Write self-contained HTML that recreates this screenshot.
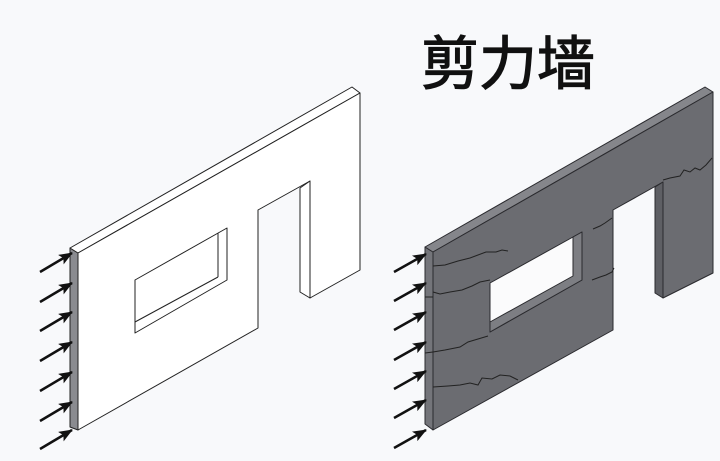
<!DOCTYPE html>
<html><head><meta charset="utf-8"><style>
html,body{margin:0;padding:0;background:#f8f9fb;}
svg{display:block}
</style></head><body>
<svg width="720" height="461" viewBox="0 0 720 461" xmlns="http://www.w3.org/2000/svg">
<rect width="720" height="461" fill="#f8f9fb"/>
<defs>
<marker id="ah2" markerWidth="14" markerHeight="11" refX="13" refY="5.5" orient="auto" markerUnits="userSpaceOnUse">
<path d="M0,0 L14,5.5 L0,11 L3,5.5 Z" fill="#111"/>
</marker>
</defs>
<text x="421" y="84" font-family="'Liberation Sans','Noto Sans CJK SC',sans-serif" font-size="58" fill="#111" stroke="#111" stroke-width="1.2">剪力墙</text>

<!-- LEFT WALL -->
<g stroke="#222" stroke-width="1" fill="#fff" stroke-linejoin="round">
<polygon points="70,248 78,253 78,430 70,427" fill="#8a8b90"/>
<polygon points="70,248 352,87 360,93 78,253"/>
<polygon points="78,253 360,93 360,270 310,298 310,181 258,210 258,328 78,430"/>
<polygon points="300,188 310,181 310,298 300,292"/>
<polygon points="135,280 227,228 227,280 135,333"/>
<line x1="218" y1="233" x2="218" y2="277"/>
<line x1="135" y1="322" x2="218" y2="277"/>
</g>
<g stroke="#111" stroke-width="2.5" marker-end="url(#ah2)">
<line x1="40" y1="272" x2="72" y2="253"/>
<line x1="40" y1="302" x2="72" y2="283"/>
<line x1="40" y1="331" x2="72" y2="312"/>
<line x1="40" y1="361" x2="72" y2="342"/>
<line x1="40" y1="391" x2="72" y2="372"/>
<line x1="40" y1="421" x2="72" y2="402"/>
<line x1="40" y1="449" x2="72" y2="430"/>
</g>

<!-- RIGHT WALL -->
<g stroke="#2a2a2e" stroke-width="1" stroke-linejoin="round">
<polygon points="425,247 433,252 433,430 425,424" fill="#74757a"/>
<polygon points="425,247 705,87 713,92 433,252" fill="#85868b"/>
<polygon points="433,252 713,92 713,273 663,298 663,182 613,210 613,330 433,430" fill="#6b6c71"/>
<polygon points="655,187 663,182 663,298 655,293" fill="#5e5f64"/>
<polygon points="490,283 582,232 582,280 490,332" fill="#fbfbfc"/>
<polygon points="573,237 582,232 582,280 490,332 490,322 573,276" fill="#7d7e83"/>
</g>
<g stroke="#222" stroke-width="1" fill="none">
<polyline points="433,266 445,265 458,261 470,258 478,255 486,252 496,252 502,250 508,251"/>
<polyline points="433,292 440,294 450,292 462,290 472,286 480,282 490,280"/>
<polyline points="425,297 433,297"/>
<polyline points="425,353 433,352"/>
<polyline points="433,352 445,350 460,347 468,342 478,339 488,336"/>
<polyline points="433,387 448,386 460,385 470,383 478,385 482,378 492,379 500,375 510,376 518,380"/>
<polyline points="592,280 600,277 606,275 612,272 614,268"/>
<polyline points="593,229 600,226 605,223 612,218"/>
<polyline points="663,180 670,178 680,176 684,170 690,172 695,168 700,170 706,165 712,158"/>
</g>
<g stroke="#111" stroke-width="2.5" marker-end="url(#ah2)">
<line x1="394" y1="272" x2="426" y2="254"/>
<line x1="394" y1="301" x2="426" y2="283"/>
<line x1="394" y1="330" x2="426" y2="312"/>
<line x1="394" y1="360" x2="426" y2="342"/>
<line x1="394" y1="389" x2="426" y2="371"/>
<line x1="394" y1="418" x2="426" y2="400"/>
<line x1="394" y1="448" x2="426" y2="430"/>
</g>
</svg>
</body></html>
